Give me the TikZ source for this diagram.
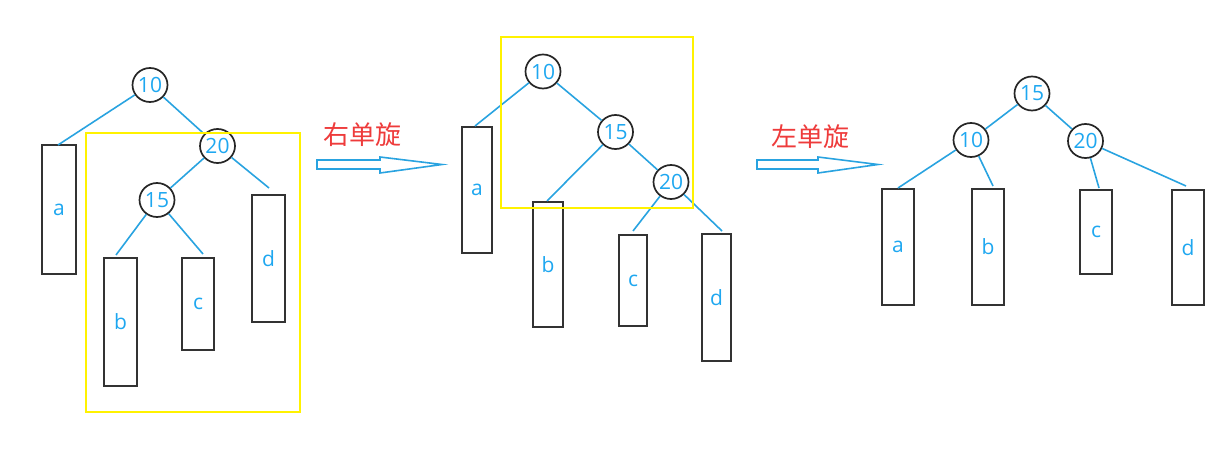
\documentclass[tikz,border=0pt]{standalone}
\usepackage{fontspec}
\setmainfont{Open Sans}
\newfontfamily\cjk{Noto Sans CJK SC}
\usetikzlibrary{shapes.geometric}
\definecolor{edgeblue}{HTML}{29A3E0}
\definecolor{lbl}{HTML}{1EA7F0}
\definecolor{ylw}{HTML}{FFF200}
\definecolor{rred}{HTML}{EE3B3B}
\begin{document}
\begin{tikzpicture}[x=1pt,y=-1pt,
  tnode/.style={ellipse, draw=black!85, line width=1.7pt, minimum width=35pt, minimum height=34pt, inner sep=0pt, text=lbl, font=\fontsize{21}{21}\selectfont},
  leaf/.style={rectangle, draw=black!80, line width=2pt, inner sep=0pt, text=lbl, font=\fontsize{21}{21}\selectfont},
  edge/.style={draw=edgeblue, line width=1.6pt},
  frame/.style={draw=ylw, line width=2.2pt},
  blockarrow/.style={draw=edgeblue, line width=1.6pt, fill=white},
  rotlabel/.style={text=rred, font=\cjk\fontsize{26}{26}\selectfont, inner sep=0pt}]
\useasboundingbox (0,0) rectangle (1209,465);

% ---------- tree 1 ----------
\node[tnode] (t1n10) at (150,85) {10};
\node[tnode] (t1n20) at (217.5,146) {20};
\node[tnode] (t1n15) at (157,200) {15};
\node[leaf, minimum width=34pt, minimum height=129pt] (t1a) at (59,209.5) {a};
\node[leaf, minimum width=33pt, minimum height=128pt] (t1b) at (120.5,322) {b};
\node[leaf, minimum width=32pt, minimum height=92pt] (t1c) at (198,304) {c};
\node[leaf, minimum width=33pt, minimum height=127pt] (t1d) at (268.5,258.5) {d};
\draw[edge] (t1n10) -- ([shift={(-1,1)}]t1a.north);
\draw[edge] (t1n10) -- (t1n20);
\draw[edge] (t1n20) -- (t1n15);
\draw[edge] (t1n20) -- ([shift={(0.5,-6)}]t1d.north);
\draw[edge] (t1n15) -- ([shift={(-4.5,-2)}]t1b.north);
\draw[edge] (t1n15) -- ([shift={(5,-3)}]t1c.north);
\draw[frame] (86,133) rectangle (300,412);

% ---------- arrow 1 ----------
\node[rotlabel] (lab1) at (362,135) {右单旋};
\draw[blockarrow] (317,160) -- (380,160) -- (380,157) -- (442,164.5) -- (380,173) -- (380,169) -- (317,169) -- cycle;

% ---------- tree 2 ----------
\node[tnode] (t2n10) at (543,71.5) {10};
\node[tnode] (t2n15) at (615.5,132) {15};
\node[tnode] (t2n20) at (671,182) {20};
\node[leaf, minimum width=30pt, minimum height=126pt] (t2a) at (477,190) {a};
\node[leaf, minimum width=30pt, minimum height=125pt] (t2b) at (548,264.5) {b};
\node[leaf, minimum width=28pt, minimum height=91pt] (t2c) at (633,280.5) {c};
\node[leaf, minimum width=29pt, minimum height=127pt] (t2d) at (716.5,297.5) {d};
\draw[edge] (t2n10) -- ([shift={(-2,0)}]t2a.north);
\draw[edge] (t2n10) -- (t2n15);
\draw[edge] (t2n15) -- ([shift={(-1,0)}]t2b.north);
\draw[edge] (t2n15) -- (t2n20);
\draw[edge] (t2n20) -- ([shift={(0,-3)}]t2c.north);
\draw[edge] (t2n20) -- ([shift={(5.5,-2)}]t2d.north);
\draw[frame] (501,37) rectangle (693,208);

% ---------- arrow 2 ----------
\node[rotlabel] (lab2) at (810,137) {左单旋};
\draw[blockarrow] (757,160) -- (818,160) -- (818,157) -- (878,164.5) -- (818,173) -- (818,169) -- (757,169) -- cycle;

% ---------- tree 3 ----------
\node[tnode] (t3n15) at (1032,93.5) {15};
\node[tnode] (t3n10) at (971,140) {10};
\node[tnode] (t3n20) at (1085.5,141) {20};
\node[leaf, minimum width=32pt, minimum height=116pt] (t3a) at (898,247) {a};
\node[leaf, minimum width=32pt, minimum height=116pt] (t3b) at (988,247) {b};
\node[leaf, minimum width=32pt, minimum height=84pt] (t3c) at (1096,232) {c};
\node[leaf, minimum width=32pt, minimum height=115pt] (t3d) at (1188,247.5) {d};
\draw[edge] (t3n15) -- (t3n10);
\draw[edge] (t3n15) -- (t3n20);
\draw[edge] (t3n10) -- (t3a.north);
\draw[edge] (t3n10) -- ([shift={(5,-2)}]t3b.north);
\draw[edge] (t3n20) -- ([shift={(3,-1)}]t3c.north);
\draw[edge] (t3n20) -- ([shift={(-2,-3)}]t3d.north);
\end{tikzpicture}
\end{document}
